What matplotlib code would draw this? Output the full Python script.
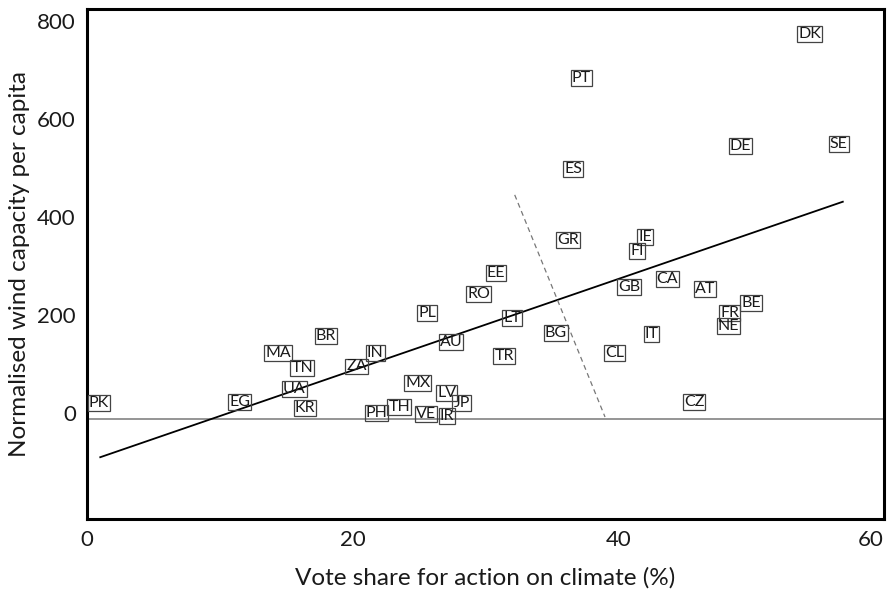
import matplotlib
matplotlib.use('Agg')
import matplotlib.pyplot as plt

# country codes with vote share (%) and normalised wind capacity per capita
codes = ['DK', 'PT', 'ES', 'DE', 'SE', 'GR', 'IE', 'FI', 'EE', 'CA',
         'AT', 'RO', 'GB', 'BE', 'PL', 'LT', 'FR', 'NE', 'BR', 'BG',
         'IT', 'AU', 'MA', 'IN', 'CL', 'TR', 'ZA', 'TN', 'MX', 'UA',
         'LV', 'JP', 'PK', 'EG', 'CZ', 'KR', 'TH', 'PH', 'VE', 'IR']
vote = [54.4, 37.2, 36.6, 49.2, 56.6, 36.2, 42.0, 41.4, 30.8, 43.7,
        46.5, 29.5, 40.8, 50.0, 25.6, 32.0, 48.4, 48.3, 18.0, 35.3,
        42.5, 27.4, 14.4, 21.7, 39.7, 31.4, 20.3, 16.2, 24.9, 15.6,
        27.1, 28.2, 0.9, 11.5, 45.7, 16.4, 23.5, 21.8, 25.5, 27.1]
wind = [773, 684, 498, 545, 548, 353, 359, 331, 286, 273,
        253, 243, 257, 224, 205, 194, 204, 178, 157, 163,
        161, 145, 122, 122, 122, 117, 95, 91, 61, 49,
        41, 21, 21, 22, 22, 10, 12, 0, -2, -6]

# fitted trend line and dividing line (end points)
fit_x = [1.0, 56.9]
fit_y = [-90, 431]
div_x = [32.2, 39.0]
div_y = [445, -8]
baseline = -13

plt.rcParams['font.family'] = ['Lato', 'DejaVu Sans']

fig = plt.figure(figsize=(8.94, 5.93), dpi=100)
ax = fig.add_axes([0.0973, 0.1248, 0.8915, 0.86])

ax.axhline(baseline, color='#8c8c8c', lw=1.3, zorder=1)
ax.plot(fit_x, fit_y, color='black', lw=1.3, zorder=2)
ax.plot(div_x, div_y, color='#777777', lw=0.9, ls=(0, (4, 3)), zorder=2)

for code, x, y in zip(codes, vote, wind):
    ax.text(x, y, code, ha='center', va='center', fontsize=11.5,
            color='#1a1a1a', zorder=3,
            bbox=dict(boxstyle='square,pad=0.06', fc='none',
                      ec='#444444', lw=0.9))

ax.set_xlim(0, 60)
ax.set_ylim(-216, 824)
ax.set_xticks([0, 20, 40, 60])
ax.set_yticks([0, 200, 400, 600, 800])
ax.tick_params(length=0, labelsize=16, pad=8, labelcolor='#1a1a1a')
ax.get_xticklabels()[-1].set_horizontalalignment('right')

for sp in ax.spines.values():
    sp.set_linewidth(2.2)

ax.set_xlabel('Vote share for action on climate (%)', fontsize=17.5,
              color='#1a1a1a', labelpad=12)
ax.set_ylabel('Normalised wind capacity per capita', fontsize=17.5,
              color='#1a1a1a', labelpad=5)

fig.savefig('out.png', dpi=100)
